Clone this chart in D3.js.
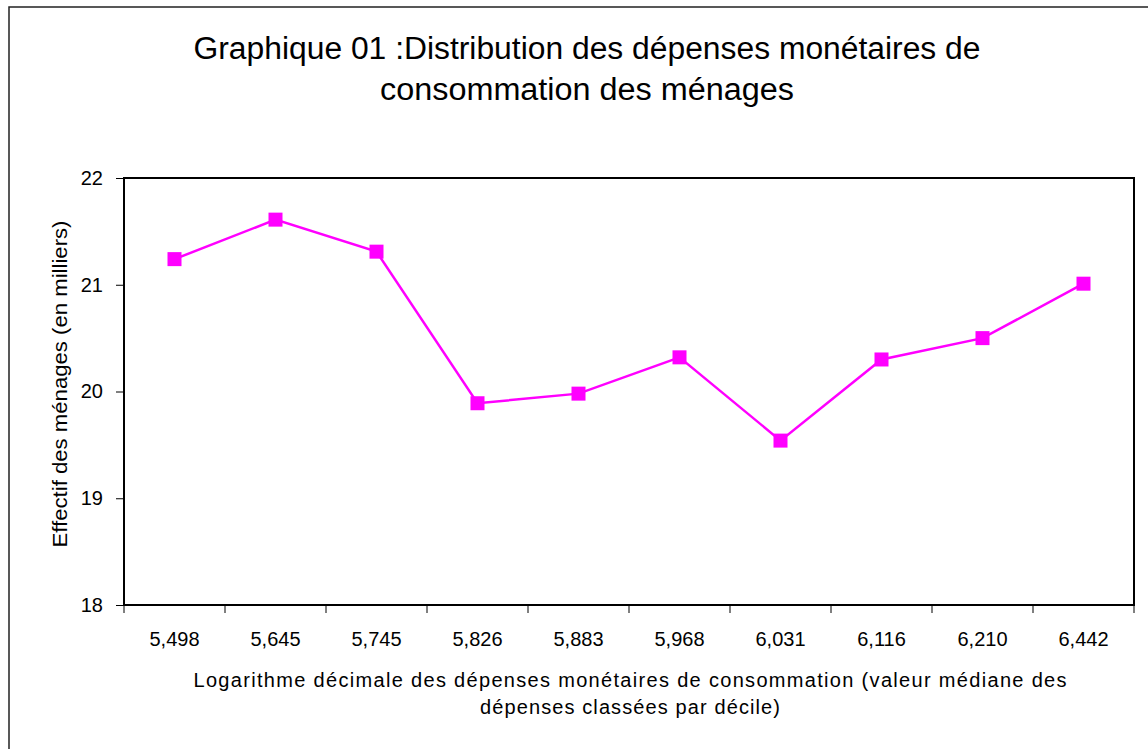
<!DOCTYPE html>
<html>
<head>
<meta charset="utf-8">
<script src="https://cdn.jsdelivr.net/npm/d3@7"></script>
<style>
  body { margin: 0; background: #fff; }
  svg { display: block; font-family: "Liberation Sans", Arial, sans-serif; }
</style>
</head>
<body>
<svg id="canvas" width="1148" height="749"></svg>
<script>
// deciles: log10 of median spending, households count (thousands)
const categories = ["5,498", "5,645", "5,745", "5,826", "5,883", "5,968", "6,031", "6,116", "6,210", "6,442"]
const effectif = [21.24, 21.61, 21.31, 19.89, 19.98, 20.32, 19.54, 20.30, 20.50, 21.01]
const yTicks = [18, 19, 20, 21, 22]

const titleLines = ["Graphique 01 :Distribution des dépenses monétaires de", "consommation des ménages"]
const xTitleLines = ["Logarithme décimale des dépenses monétaires de consommation (valeur médiane des", "dépenses classées par décile)"]
const yTitle = "Effectif des ménages (en milliers)"

const plotLeft = 124, plotRight = 1134, plotTop = 178, plotBottom = 605
const color = "#ff00ff"

let svg = d3.select("#canvas")

// outer frame
svg.append("rect")
    .attr("x", 9).attr("y", 7)
    .attr("width", 1160).attr("height", 760)
    .attr("fill", "none")
    .attr("stroke", "#222")
    .attr("stroke-width", 1.5)

let xScale = d3.scaleBand()
    .domain(categories)
    .range([plotLeft, plotRight])
    .padding(0)

let yScale = d3.scaleLinear()
    .domain([18, 22])
    .range([plotBottom, plotTop])

// title
svg.append("g").selectAll("text")
    .data(titleLines)
    .enter()
    .append("text")
    .attr("x", 587)
    .attr("y", (d, i) => 59 + i * 41)
    .attr("text-anchor", "middle")
    .attr("font-size", 31)
    .attr("textLength", (d, i) => i === 0 ? 787 : 414)
    .attr("lengthAdjust", "spacingAndGlyphs")
    .attr("fill", "#000")
    .text(d => d)

// y axis
let yAxis = d3.axisLeft(yScale).tickValues(yTicks).tickSize(8).tickPadding(13).tickFormat(d3.format("d"))
svg.append("g")
    .attr("transform", "translate(" + plotLeft + ",0)")
    .call(yAxis)
    .call(g => g.select(".domain").remove())
    .call(g => g.selectAll("text").attr("font-size", 20).attr("font-family", "Liberation Sans, Arial").attr("fill", "#000"))
    .call(g => g.selectAll("line").attr("stroke", "#000"))

// x axis ticks at band edges
let edges = categories.map(c => xScale(c)).concat([plotRight])
svg.append("g").selectAll("line")
    .data(edges)
    .enter()
    .append("line")
    .attr("x1", d => d).attr("x2", d => d)
    .attr("y1", plotBottom).attr("y2", plotBottom + 8)
    .attr("stroke", "#000")

svg.append("g").selectAll("text")
    .data(categories)
    .enter()
    .append("text")
    .attr("x", d => xScale(d) + xScale.bandwidth() / 2)
    .attr("y", 646)
    .attr("text-anchor", "middle")
    .attr("font-size", 20)
    .text(d => d)

// plot frame
svg.append("rect")
    .attr("x", plotLeft).attr("y", plotTop)
    .attr("width", plotRight - plotLeft).attr("height", plotBottom - plotTop)
    .attr("fill", "none")
    .attr("stroke", "#000")
    .attr("stroke-width", 2)

// x title
svg.append("g").selectAll("text")
    .data(xTitleLines)
    .enter()
    .append("text")
    .attr("x", 630)
    .attr("y", (d, i) => 687 + i * 27)
    .attr("text-anchor", "middle")
    .attr("font-size", 20)
    .attr("textLength", (d, i) => i === 0 ? 873 : 300)
    .attr("lengthAdjust", "spacing")
    .text(d => d)

// y title
svg.append("text")
    .attr("transform", "translate(67,384) rotate(-90)")
    .attr("text-anchor", "middle")
    .attr("font-size", 20)
    .attr("textLength", 327)
    .attr("lengthAdjust", "spacingAndGlyphs")
    .text(yTitle)

// line + markers
let line = d3.line()
    .x((d, i) => xScale(categories[i]) + xScale.bandwidth() / 2)
    .y(d => yScale(d))

svg.append("path")
    .datum(effectif)
    .attr("d", line)
    .attr("fill", "none")
    .attr("stroke", color)
    .attr("stroke-width", 2.5)

svg.append("g").selectAll("rect")
    .data(effectif)
    .enter()
    .append("rect")
    .attr("x", (d, i) => xScale(categories[i]) + xScale.bandwidth() / 2 - 7)
    .attr("y", d => yScale(d) - 7)
    .attr("width", 14).attr("height", 14)
    .attr("fill", color)
</script>
</body>
</html>
